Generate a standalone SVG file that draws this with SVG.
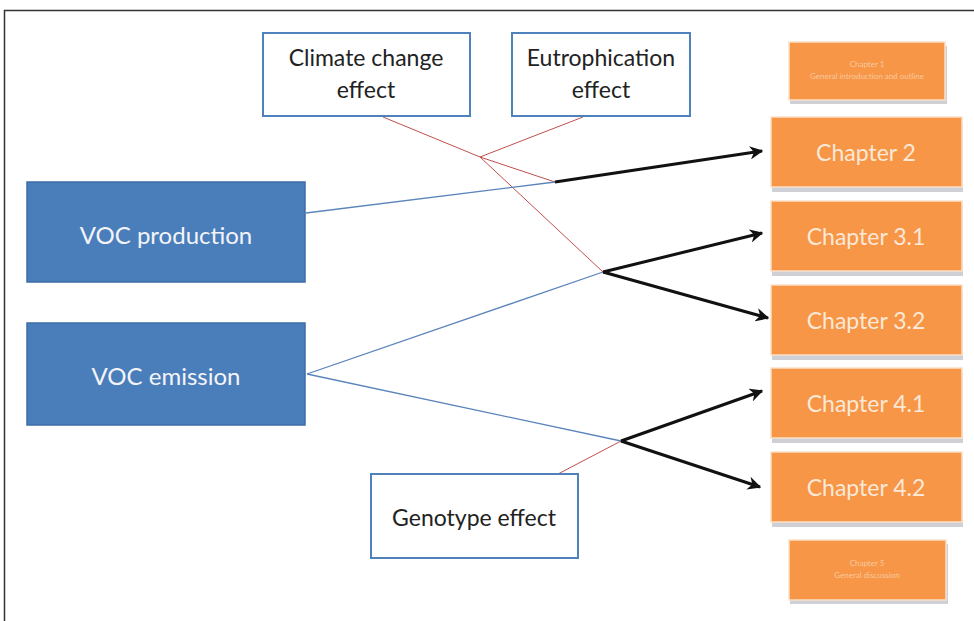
<svg xmlns="http://www.w3.org/2000/svg" width="974" height="621" viewBox="0 0 974 621">
<defs>
<style>
.wbox{fill:#fff;stroke:#4f81bd;stroke-width:2}
.bbox{fill:#4a7ebb;stroke:#3d6da6;stroke-width:1.5}
.obox{fill:#f79646;stroke:#fbe0c8;stroke-width:1.5}
.shadow{fill:#b9bcc4;opacity:0.7}
.t{font-family:Lato,"Open Sans","Liberation Sans",sans-serif;text-anchor:middle}
.dark{fill:#222;font-size:23px}
.light{fill:#f4f4f8;font-size:24px}
.ch{fill:#fbe8d8;font-size:23px}
.tiny{fill:#f9c9a0;font-size:8px}
.red{stroke:#c0504d;stroke-width:1;fill:none}
.blue{stroke:#5a84bb;stroke-width:1.3;fill:none}
.blk{stroke:#111;stroke-width:3;fill:none;marker-end:url(#ah)}
</style>
<marker id="ah" viewBox="0 0 10 10" refX="9" refY="5" markerWidth="4.5" markerHeight="4.5" orient="auto" markerUnits="strokeWidth">
<path d="M0,0 L10,5 L0,10 L3,5 Z" fill="#111"/>
</marker>
</defs>
<rect width="974" height="621" fill="#fff"/>
<path d="M4.5,621 V10.5 H974" fill="none" stroke="#333" stroke-width="1.5"/>

<g id="connectors">
<line class="red" x1="383" y1="117" x2="480" y2="157"/>
<line class="red" x1="583" y1="117" x2="480" y2="157"/>
<line class="red" x1="480" y1="157" x2="555" y2="182"/>
<line class="red" x1="480" y1="157" x2="603" y2="272"/>
<line class="red" x1="558" y1="474" x2="621" y2="441"/>
<line class="blue" x1="306" y1="213" x2="555" y2="182"/>
<line class="blue" x1="307" y1="374" x2="603" y2="272"/>
<line class="blue" x1="307" y1="374" x2="621" y2="441"/>
<line class="blk" x1="555" y1="182" x2="762" y2="151"/>
<line class="blk" x1="603" y1="272" x2="762" y2="233"/>
<line class="blk" x1="603" y1="272" x2="768" y2="318"/>
<line class="blk" x1="621" y1="441" x2="762" y2="391"/>
<line class="blk" x1="621" y1="441" x2="760" y2="487"/>
</g>

<g id="climate">
<rect class="wbox" x="263" y="33" width="207" height="83"/>
<text class="t dark" x="366" y="66">Climate change</text>
<text class="t dark" x="366" y="98">effect</text>
</g>
<g id="eutrophication">
<rect class="wbox" x="512" y="33" width="178" height="83"/>
<text class="t dark" x="601" y="66">Eutrophication</text>
<text class="t dark" x="601" y="98">effect</text>
</g>
<g id="genotype">
<rect class="wbox" x="371" y="474" width="207" height="84"/>
<text class="t dark" x="474" y="526">Genotype effect</text>
</g>
<g id="voc-production">
<rect class="bbox" x="27" y="182" width="278" height="100"/>
<text class="t light" x="166" y="244">VOC production</text>
</g>
<g id="voc-emission">
<rect class="bbox" x="27" y="323" width="278" height="102"/>
<text class="t light" x="166" y="385">VOC emission</text>
</g>

<g id="chapter1">
<rect class="shadow" x="790" y="46" width="157" height="58"/>
<rect class="obox" x="789" y="42" width="156" height="58"/>
<text class="t tiny" x="867" y="67">Chapter 1</text>
<text class="t tiny" x="867" y="79">General introduction and outline</text>
</g>
<g id="chapter2">
<rect class="shadow" x="772" y="122" width="191" height="70"/>
<rect class="obox" x="771" y="117" width="191" height="70"/>
<text class="t ch" x="866" y="161">Chapter 2</text>
</g>
<g id="chapter3-1">
<rect class="shadow" x="772" y="206" width="191" height="70"/>
<rect class="obox" x="771" y="201" width="191" height="70"/>
<text class="t ch" x="866" y="245">Chapter 3.1</text>
</g>
<g id="chapter3-2">
<rect class="shadow" x="772" y="290" width="191" height="70"/>
<rect class="obox" x="771" y="285" width="191" height="70"/>
<text class="t ch" x="866" y="329">Chapter 3.2</text>
</g>
<g id="chapter4-1">
<rect class="shadow" x="772" y="373" width="191" height="70"/>
<rect class="obox" x="771" y="368" width="191" height="70"/>
<text class="t ch" x="866" y="412">Chapter 4.1</text>
</g>
<g id="chapter4-2">
<rect class="shadow" x="772" y="457" width="191" height="70"/>
<rect class="obox" x="771" y="452" width="191" height="70"/>
<text class="t ch" x="866" y="496">Chapter 4.2</text>
</g>
<g id="chapter5">
<rect class="shadow" x="790" y="544" width="158" height="60"/>
<rect class="obox" x="789" y="540" width="157" height="60"/>
<text class="t tiny" x="867" y="566">Chapter 5</text>
<text class="t tiny" x="867" y="578">General discussion</text>
</g>
</svg>
